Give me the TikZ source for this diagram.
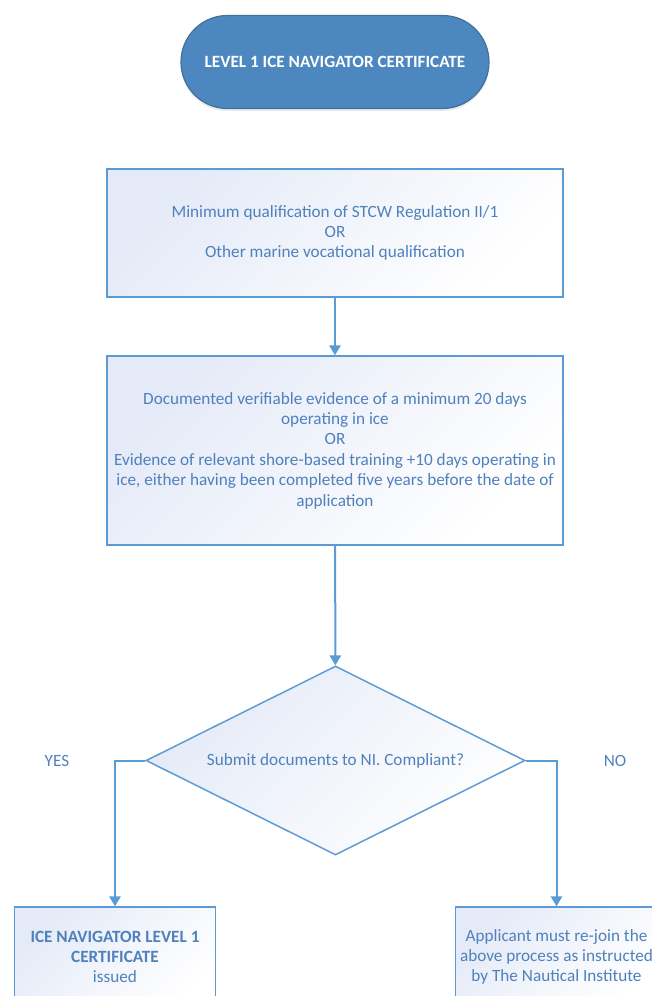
\documentclass[tikz,border=0pt]{standalone}
\usepackage{fontspec}
\setmainfont{Carlito}
\usetikzlibrary{shapes.geometric,arrows.meta,shadows}

\begin{document}
\begin{tikzpicture}[x=0.75pt,y=-0.75pt,
    every node/.style={font=\fontsize{12.9}{15.3}\selectfont},
    termbox/.style={rectangle, rounded corners=34.8pt, fill=termfill, draw=termline,
      line width=0.9pt, text=white, minimum width=231pt, minimum height=69.75pt,
      drop shadow={shadow xshift=0pt, shadow yshift=-2pt, opacity=0.15}},
    stepbox/.style={rectangle, draw=linecolor, line width=1.1pt, top color=boxfill,
      bottom color=white, shading angle=45, text=textcolor, align=center},
    decision/.style={diamond, aspect=2, draw=linecolor, line width=1.1pt, top color=boxfill,
      bottom color=white, shading angle=45, text=textcolor, inner sep=0pt,
      minimum width=284.25pt, minimum height=141.75pt},
    flow/.style={draw=linecolor, line width=1.5pt, -{Triangle[width=8.5pt,length=7.5pt]}},
    answer/.style={text=textcolor}]
    \definecolor{textcolor}{RGB}{79,129,189}
    \definecolor{linecolor}{RGB}{91,155,213}
    \definecolor{termfill}{RGB}{76,135,191}
    \definecolor{termline}{RGB}{65,113,156}
    \definecolor{boxfill}{RGB}{228,234,247}

    \clip (0,0) rectangle (652,996);

    % Titolo
    \node[termbox] (title) at (335,62) {\textbf{LEVEL 1 ICE NAVIGATOR CERTIFICATE}};

    % Requisiti
    \node[stepbox, minimum width=342pt, minimum height=96pt] (qual) at (335,233)
      {Minimum qualification of STCW Regulation II/1\\ OR\\ Other marine vocational qualification};
    \node[stepbox, minimum width=342pt, minimum height=141.75pt] (evid) at (335,450.5)
      {Documented verifiable evidence of a minimum 20 days\\ operating in ice\\ OR\\
       Evidence of relevant shore-based training +10 days operating in\\
       ice, either having been completed five years before the date of\\ application};

    % Verifica
    \node[decision] (check) at (335.5,760.5) {Submit documents to NI. Compliant?};
    \node[answer] (yes) at (57,761) {YES};
    \node[answer] (no) at (615,761) {NO};

    % Esiti
    \node[stepbox, minimum width=150.75pt, minimum height=75pt] (cert) at (115,957)
      {\textbf{ICE NAVIGATOR LEVEL 1}\\ \textbf{CERTIFICATE}\\ issued};
    \node[stepbox, minimum width=150.75pt, minimum height=75pt] (rejoin) at (556.5,957)
      {Applicant must re-join the\\ above process as instructed\\ by The Nautical Institute};

    \draw[flow] (qual) -- (evid);
    \draw[flow] (evid) -- (check);
    \draw[flow] (check.west) -| (cert.north);
    \draw[flow] (check.east) -| (rejoin.north);
\end{tikzpicture}
\end{document}
